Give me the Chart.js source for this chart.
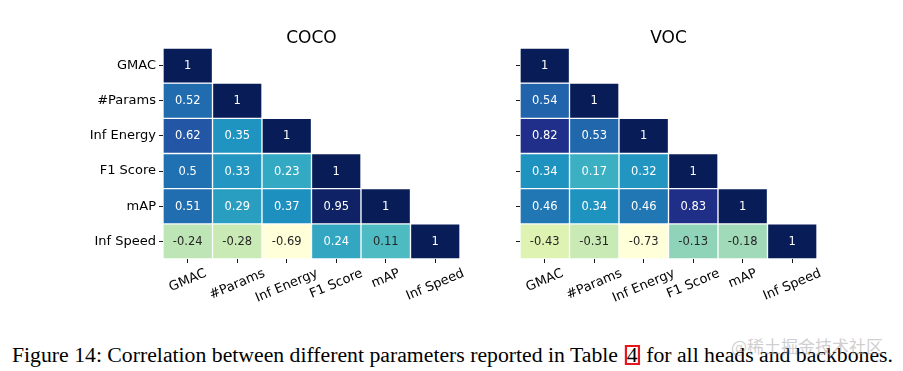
<!DOCTYPE html>
<html>
<head>
<meta charset="utf-8">
<script src="https://cdn.jsdelivr.net/npm/chart.js@4.4.1/dist/chart.umd.min.js"></script>
<style>
  html, body { margin:0; padding:0; background:#fff; }
  #wrap { position:relative; width:903px; height:371px; overflow:hidden; background:#fff; }
  canvas { position:absolute; top:0; }
  #c1 { left:0; }
  #c2 { left:480px; }
  #cap { position:absolute; left:12px; top:345px; font-family:'Liberation Serif', serif; font-size:20px; line-height:20px; white-space:nowrap; color:#000; transform-origin:left top; }
  #cap .ref { display:inline-block; height:16px; line-height:16px; border:2px solid #e8141e; padding:0; margin:0 1px; }
  #wm { position:absolute; left:731px; top:336px; font-family:'Noto Sans CJK SC', sans-serif; font-size:17px; line-height:20px; color:rgba(165,165,165,0.55); white-space:nowrap; }
</style>
</head>
<body>
<div id="wrap">
  <canvas id="c1" width="480" height="330"></canvas>
  <canvas id="c2" width="423" height="330"></canvas>
  <div id="cap">Figure 14: Correlation between different parameters reported in Table <span class="ref">4</span> for all heads and backbones.</div>
  <div id="wm">@稀土掘金技术社区</div>
</div>
<script>
// ---- data ----
const categories = ['GMAC', '#Params', 'Inf Energy', 'F1 Score', 'mAP', 'Inf Speed'];
const cocoTitle = 'COCO';
const vocTitle = 'VOC';
// lower-triangle correlation rows (row r has r+1 values)
const cocoRows = [
  [1],
  [0.52, 1],
  [0.62, 0.35, 1],
  [0.5, 0.33, 0.23, 1],
  [0.51, 0.29, 0.37, 0.95, 1],
  [-0.24, -0.28, -0.69, 0.24, 0.11, 1]
];
const vocRows = [
  [1],
  [0.54, 1],
  [0.82, 0.53, 1],
  [0.34, 0.17, 0.32, 1],
  [0.46, 0.34, 0.46, 0.83, 1],
  [-0.43, -0.31, -0.73, -0.13, -0.18, 1]
];

// ---- colormap (YlGnBu) ----
const YLGNBU = ['#ffffd9','#edf8b1','#c7e9b4','#7fcdbb','#41b6c4','#1d91c0','#225ea8','#253494','#081d58'];
function hexToRgb(h){ return [parseInt(h.slice(1,3),16), parseInt(h.slice(3,5),16), parseInt(h.slice(5,7),16)]; }
function cmap(t){
  t = Math.max(0, Math.min(1, t));
  const n = YLGNBU.length - 1;
  const p = t * n;
  const i = Math.min(n - 1, Math.floor(p));
  const f = p - i;
  const a = hexToRgb(YLGNBU[i]), b = hexToRgb(YLGNBU[i+1]);
  return a.map((v,k) => Math.round(v + (b[k]-v)*f));
}
function lum(rgb){
  const c = rgb.map(v => { v /= 255; return v <= 0.03928 ? v/12.92 : Math.pow((v+0.055)/1.055, 2.4); });
  return 0.2126*c[0] + 0.7152*c[1] + 0.0722*c[2];
}
function fmt(v){ return String(v); }

const annotPlugin = {
  id: 'annot',
  afterDatasetsDraw(chart) {
    const ctx = chart.ctx;
    const rows = chart.config.options.heatRows;
    ctx.save();
    ctx.font = '11.5px "DejaVu Sans"';
    ctx.textAlign = 'center';
    ctx.textBaseline = 'middle';
    rows.forEach((row, r) => {
      const meta = chart.getDatasetMeta(r);
      row.forEach((v, c) => {
        const el = meta.data[c];
        if (!el) return;
        const p = el.getCenterPoint();
        const rgb = chart.config.options.heatColors[r][c];
        ctx.fillStyle = lum(rgb) > 0.408 ? '#262626' : '#ffffff';
        ctx.fillText(fmt(v), p.x, p.y + 0.5);
      });
    });
    ctx.restore();
  },
  afterDraw(chart) {
    const ctx = chart.ctx;
    const area = chart.chartArea;
    const xs = chart.scales.x;
    ctx.save();
    // title
    ctx.fillStyle = '#000';
    ctx.font = '17px "DejaVu Sans"';
    ctx.textAlign = 'center';
    ctx.textBaseline = 'alphabetic';
    ctx.fillText(chart.config.options.heatTitle, (area.left + area.right)/2, 42.5);
    // rotated x labels, centered on ticks
    const a = 23 * Math.PI / 180;
    ctx.font = '13px "DejaVu Sans"';
    ctx.textBaseline = 'middle';
    const h = 15;
    categories.forEach((lab, i) => {
      const x = xs.getPixelForTick(i);
      const w = ctx.measureText(lab).width;
      const H = w*Math.sin(a) + h*Math.cos(a);
      const top = area.bottom + 7;
      ctx.save();
      ctx.translate(x, top + H/2);
      ctx.rotate(-a);
      ctx.fillText(lab, 0, 0);
      ctx.restore();
    });
    ctx.restore();
  }
};

function makeChart(id, title, rows, showY, leftW, rightPad) {
  const vmin = Math.min(...rows.flat());
  const colors = rows.map(row => row.map(v => cmap((v - vmin) / (1 - vmin))));
  const datasets = rows.map((row, r) => ({
    data: categories.map((_, c) => c <= r ? [r, r + 1] : null),
    backgroundColor: categories.map((_, c) => c <= r ? 'rgb(' + colors[r][c].join(',') + ')' : 'rgba(0,0,0,0)'),
    borderColor: '#ffffff',
    borderWidth: 1,
    borderSkipped: false,
    grouped: false,
    barPercentage: 1,
    categoryPercentage: 1
  }));
  return new Chart(document.getElementById(id), {
    type: 'bar',
    data: { labels: categories, datasets },
    options: {
      heatRows: rows,
      heatColors: colors,
      heatTitle: title,
      responsive: false,
      animation: false,
      devicePixelRatio: 1,
      layout: { padding: { top: 48, right: rightPad, left: 0, bottom: 0 } },
      plugins: { legend: { display: false }, tooltip: { enabled: false }, title: { display: false } },
      scales: {
        x: {
          type: 'category',
          offset: true,
          border: { display: false },
          grid: { offset: false, drawOnChartArea: false, drawTicks: true, tickLength: 4, color: '#000', lineWidth: 0.9 },
          ticks: { display: false },
          afterFit(s) { s.height = 330 - 259; }
        },
        y: {
          type: 'linear',
          min: 0, max: 6,
          reverse: true,
          border: { display: false },
          grid: { drawOnChartArea: false, drawTicks: true, tickLength: 4, color: '#000', lineWidth: 0.9 },
          afterBuildTicks(s) { s.ticks = categories.map((_, i) => ({ value: i + 0.5 })); },
          ticks: {
            autoSkip: false,
            padding: 3,
            color: '#000',
            font: { family: 'DejaVu Sans', size: 13 },
            callback: (v, i) => showY ? categories[i] : ''
          },
          afterFit(s) { s.width = leftW; }
        }
      }
    },
    plugins: [annotPlugin]
  });
}

makeChart('c1', cocoTitle, cocoRows, true, 163, 480 - 460);
makeChart('c2', vocTitle, vocRows, false, 40, 423 - 337);

// fit caption width to reference span
const cap = document.getElementById('cap');
const cw = cap.getBoundingClientRect().width;
cap.style.transform = 'scaleX(' + (881 / cw) + ')';
</script>
</body>
</html>
